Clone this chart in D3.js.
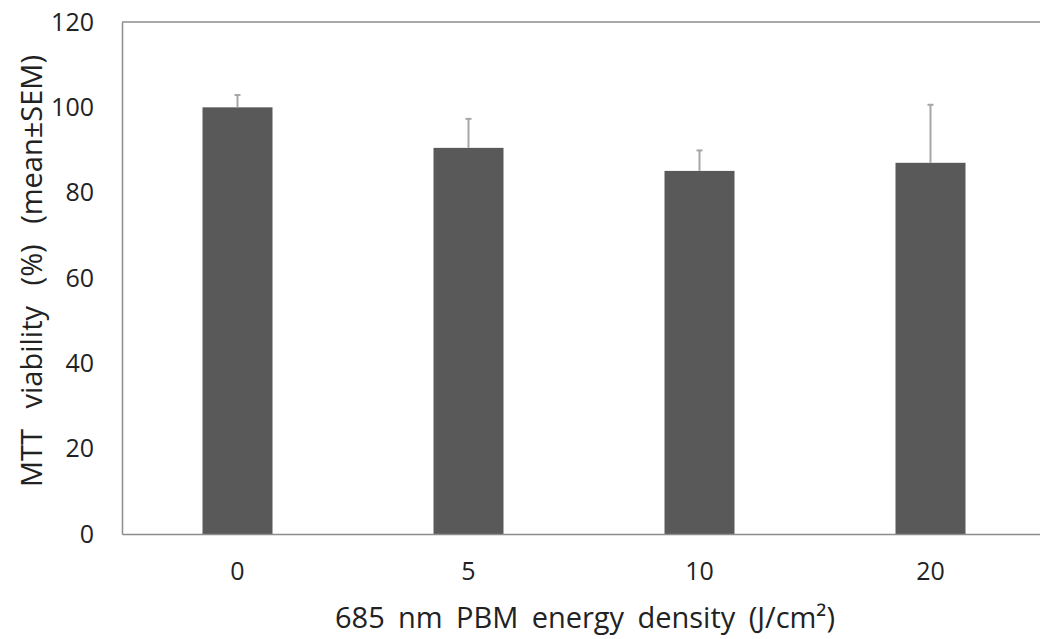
<!DOCTYPE html>
<html><head><meta charset="utf-8">
<script src="https://cdn.jsdelivr.net/npm/d3@7"></script>
<style>body{margin:0;background:#fff}svg{display:block}text{font-family:"Open Sans",sans-serif;fill:#222}</style>
</head><body><svg id="c" width="1040" height="639"></svg>
<script>
const categories = ["0", "5", "10", "20"];
const means = [100, 90.5, 85.1, 87.0];
const sems = [2.9, 6.8, 4.8, 13.6];
const yTicks = [0, 20, 40, 60, 80, 100, 120];

const svg = d3.select("#c");
const L = 122, R = 1046, T = 22, B = 534;
const x = d3.scaleBand().domain(categories).range([L, R]).paddingInner(0.697).paddingOuter(0.3485);
const y = d3.scaleLinear().domain([0, 120]).range([B, T]);
const axisCol = "#8c8c8c";

svg.append("line").attr("x1", L).attr("x2", R).attr("y1", T).attr("y2", T)
  .attr("stroke", axisCol).attr("stroke-width", 1.5);

svg.selectAll("rect.bar").data(categories).enter().append("rect")
  .attr("class", "bar")
  .attr("x", d => x(d)).attr("width", x.bandwidth())
  .attr("y", (d, i) => y(means[i])).attr("height", (d, i) => y(0) - y(means[i]))
  .attr("fill", "#595959");

const eb = svg.selectAll("g.eb").data(categories).enter().append("g").attr("class", "eb");
eb.append("line")
  .attr("x1", d => x(d) + x.bandwidth() / 2).attr("x2", d => x(d) + x.bandwidth() / 2)
  .attr("y1", (d, i) => y(means[i])).attr("y2", (d, i) => y(means[i] + sems[i]))
  .attr("stroke", "#a6a6a6").attr("stroke-width", 2);
eb.append("line")
  .attr("x1", d => x(d) + x.bandwidth() / 2 - 3).attr("x2", d => x(d) + x.bandwidth() / 2 + 3)
  .attr("y1", (d, i) => y(means[i] + sems[i])).attr("y2", (d, i) => y(means[i] + sems[i]))
  .attr("stroke", "#a6a6a6").attr("stroke-width", 2);

const ya = svg.append("g").attr("transform", `translate(${L},0)`)
  .call(d3.axisLeft(y).tickValues(yTicks).tickSize(0).tickPadding(28));
ya.select(".domain").attr("stroke", axisCol).attr("stroke-width", 1.5);
ya.selectAll("text").style("font-size", "25px").attr("fill", "#222");

const xa = svg.append("g").attr("transform", `translate(0,${B})`)
  .call(d3.axisBottom(x).tickSize(0).tickPadding(28));
xa.select(".domain").attr("stroke", axisCol).attr("stroke-width", 1.5);
xa.selectAll("text").style("font-size", "25px").attr("fill", "#222");

function fitWords(sel, target) {
  const node = sel.node();
  const w = node.getComputedTextLength();
  const spaces = (node.textContent.match(/ /g) || []).length;
  if (spaces && w < target) sel.style("word-spacing", ((target - w) / spaces) + "px");
}
const xt = svg.append("text").attr("x", 585).attr("y", 628).attr("text-anchor", "middle")
  .style("font-size", "29px").text("685 nm PBM energy density (J/cm²)");
fitWords(xt, 500);
const yt = svg.append("text").attr("transform", "translate(42,271) rotate(-90)").attr("text-anchor", "middle")
  .style("font-size", "29px").text("MTT viability (%) (mean±SEM)");
fitWords(yt, 432);
</script></body></html>
